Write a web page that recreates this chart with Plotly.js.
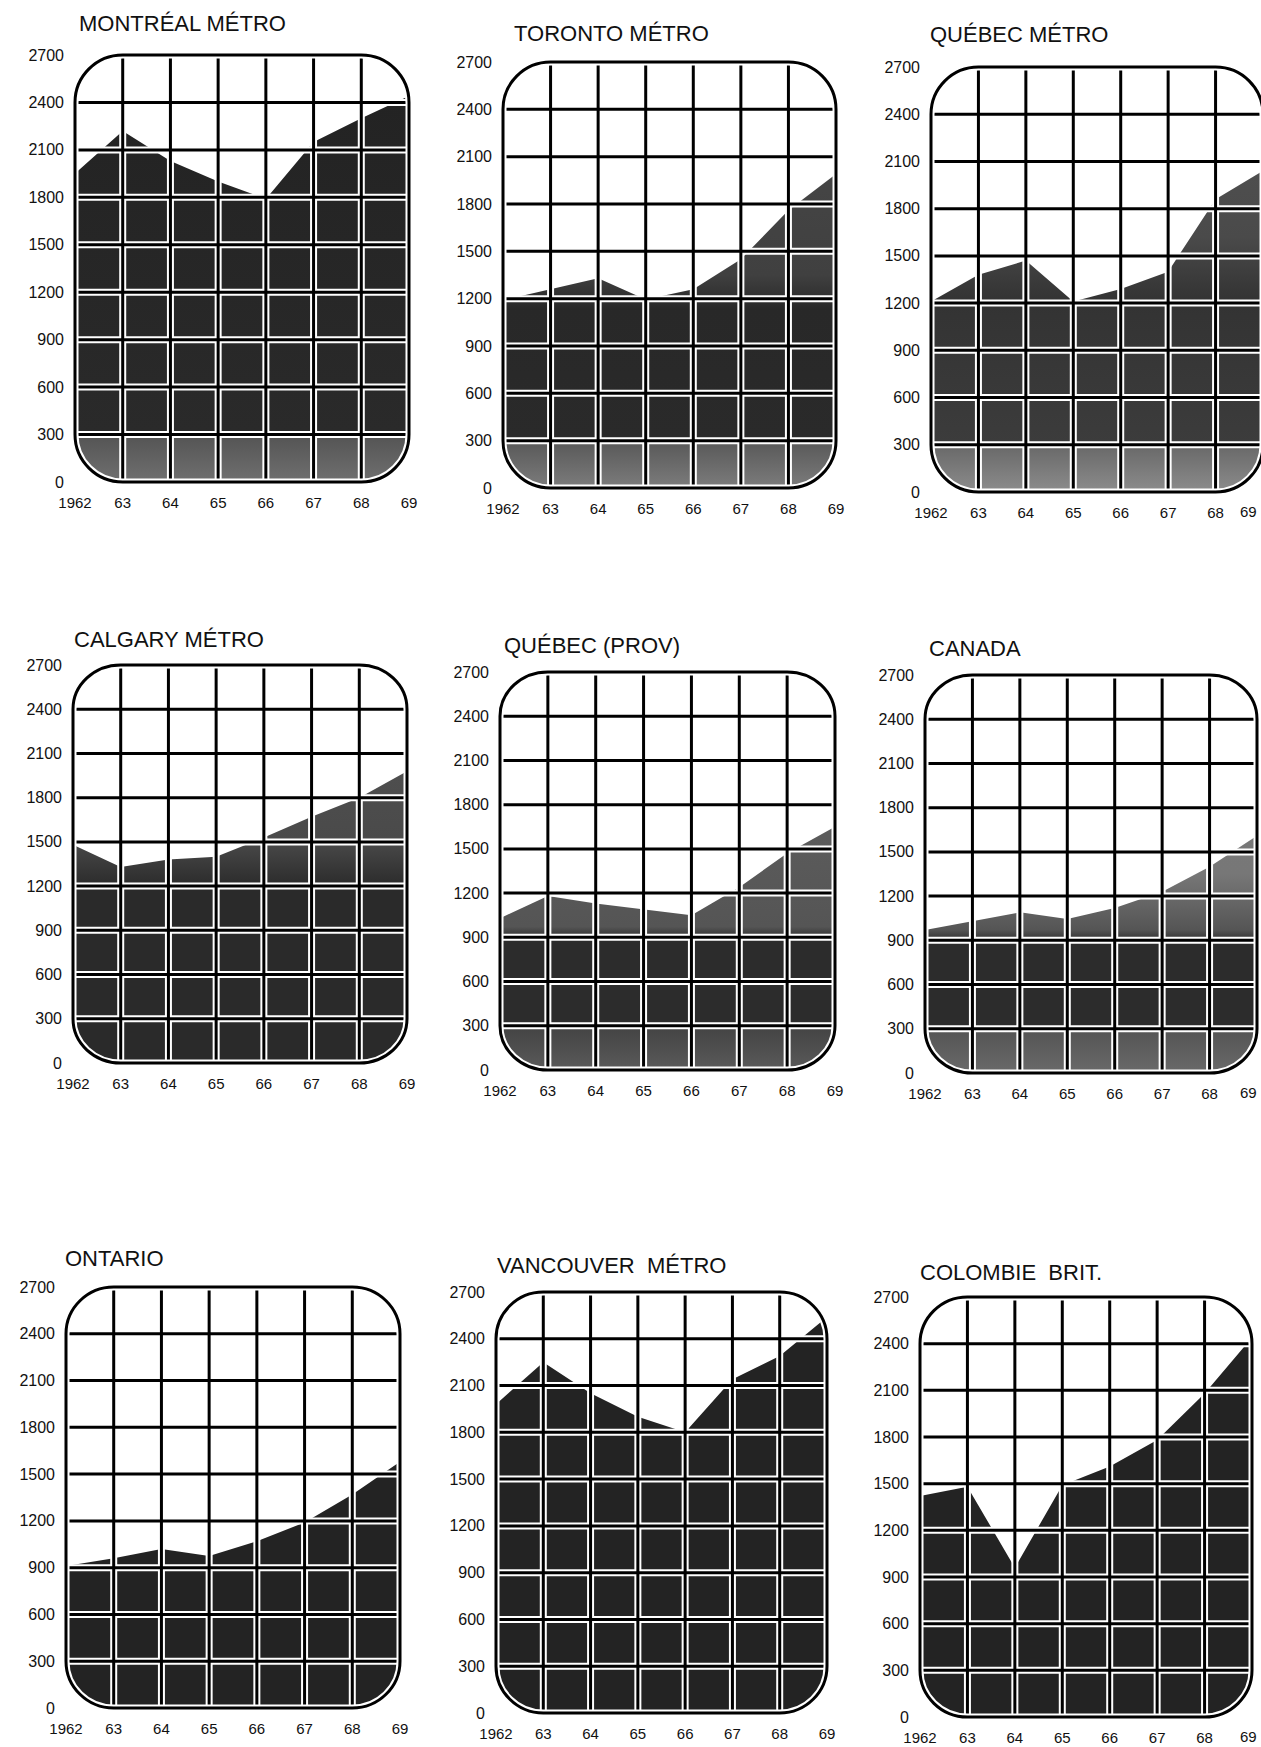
<!DOCTYPE html>
<html><head><meta charset="utf-8">
<script src="https://cdn.plot.ly/plotly-3.0.1.min.js"></script>
<style>html,body{margin:0;padding:0;background:#fff}</style>
</head><body><div id="chart" style="width:1261px;height:1747px"></div>
<script>
// ---- data ----
const years = [1962, 1963, 1964, 1965, 1966, 1967, 1968, 1969];
const yearLabels = ['1962', '63', '64', '65', '66', '67', '68', '69'];
const yTicks = [0, 300, 600, 900, 1200, 1500, 1800, 2100, 2400, 2700];
const titles = ['MONTRÉAL MÉTRO', 'TORONTO MÉTRO', 'QUÉBEC MÉTRO', 'CALGARY MÉTRO', 'QUÉBEC (PROV)', 'CANADA', 'ONTARIO', 'VANCOUVER  MÉTRO', 'COLOMBIE  BRIT.'];
const montreal     = [1950, 2220, 2030, 1900, 1790, 2150, 2300, 2440];
const toronto      = [1190, 1260, 1330, 1195, 1260, 1450, 1760, 1990];
const quebecMetro  = [1210, 1380, 1470, 1210, 1290, 1400, 1860, 2040];
const calgary      = [1480, 1330, 1380, 1400, 1530, 1670, 1800, 1980];
const quebecProv   = [1030, 1180, 1130, 1090, 1050, 1240, 1470, 1650];
const canada       = [970, 1030, 1090, 1045, 1120, 1230, 1400, 1610];
const ontario      = [910, 960, 1020, 975, 1070, 1190, 1370, 1580];
const vancouver    = [1980, 2250, 2050, 1900, 1800, 2140, 2290, 2540];
const colombieBrit = [1420, 1480, 960, 1490, 1610, 1780, 2080, 2440];
const series = [montreal, toronto, quebecMetro, calgary, quebecProv, canada, ontario, vancouver, colombieBrit];

// ---- layout geometry (pixels) ----
const boxes = [
  {L:75,  R:409,  T:55,   B:482,  tx:77,  ty:23},
  {L:503, R:836,  T:62,   B:488,  tx:512, ty:33},
  {L:931, R:1263, T:67,   B:492,  tx:928, ty:35},
  {L:73,  R:407,  T:665,  B:1063, tx:72,  ty:639},
  {L:500, R:835,  T:672,  B:1070, tx:502, ty:645},
  {L:925, R:1257, T:675,  B:1073, tx:927, ty:648},
  {L:66,  R:400,  T:1287, B:1708, tx:63,  ty:1258},
  {L:496, R:827,  T:1292, B:1713, tx:495, ty:1265},
  {L:920, R:1252, T:1297, B:1717, tx:918, ty:1272}
];
const D = '#232323';
const shades = [
  [[0,'#707070'],[0.105,'#555'],[0.115,'#2a2a2a'],[1,'#222']],
  [[0,'#7c7c7c'],[0.105,'#5a5a5a'],[0.115,'#2a2a2a'],[0.42,'#282828'],[0.5,'#404040'],[1,'#4a4a4a']],
  [[0,'#8c8c8c'],[0.105,'#6a6a6a'],[0.115,'#3c3c3c'],[0.45,'#333'],[0.6,'#4a4a4a'],[1,'#555']],
  [[0,'#2a2a2a'],[0.44,'#2a2a2a'],[0.56,'#4a4a4a'],[1,'#555']],
  [[0,'#5a5a5a'],[0.105,'#444'],[0.115,'#2c2c2c'],[0.33,'#2c2c2c'],[0.36,'#555'],[1,'#666']],
  [[0,'#6a6a6a'],[0.105,'#555'],[0.115,'#2c2c2c'],[0.33,'#2c2c2c'],[0.36,'#555'],[0.5,'#777'],[1,'#7a7a7a']],
  [[0,D],[1,D]],
  [[0,D],[1,D]],
  [[0,D],[1,D]]
];

const W = 1261, H = 1747;
const traces = [], shapes = [], annotations = [];
const layout = {
  width: W, height: H, margin: {l:0, r:0, t:0, b:0},
  paper_bgcolor: '#fff', plot_bgcolor: 'rgba(0,0,0,0)', showlegend: false,
  font: {family: 'Liberation Sans, Arial, sans-serif', color: '#111'}
};
const k = 0.5523;
boxes.forEach((p, i) => {
  const n = i === 0 ? '' : String(i + 1);
  const xa = 'x' + n, ya = 'y' + n;
  const pxX = (p.R - p.L) / 7, pxY = (p.B - p.T) / 2700;
  const pad = 6;
  const dl = p.L - pad, dr = Math.min(p.R + pad, W);
  const xr = [1962 - pad / pxX, 1962 + (dr - p.L) / pxX];
  const yr = [-pad / pxY, 2700 + pad / pxY];
  const edge = p.R + 10 > W;
  layout['xaxis' + n] = {
    domain: [dl / W, dr / W], range: xr, anchor: ya, tickmode: 'array',
    tickvals: edge ? years.slice(0, -1) : years, ticktext: edge ? yearLabels.slice(0, -1) : yearLabels,
    showgrid: false, zeroline: false, showline: false, ticks: '', tickfont: {size: 15, color: '#111'},
    ticklabelstandoff: 4, ticklabeloverflow: 'allow', fixedrange: true
  };
  layout['yaxis' + n] = {
    domain: [1 - (p.B + pad) / H, 1 - (p.T - pad) / H], range: yr, anchor: xa, tickmode: 'array', tickvals: yTicks,
    showgrid: false, zeroline: false, showline: false, ticks: '', tickfont: {size: 16, color: '#111'},
    ticklabelstandoff: 4, ticklabeloverflow: 'allow', fixedrange: true
  };
  traces.push({
    type: 'scatter', x: years, y: series[i], xaxis: xa, yaxis: ya, mode: 'lines',
    line: {width: 0, color: 'rgba(0,0,0,0)'}, fill: 'tozeroy', fillcolor: D,
    fillgradient: {type: 'vertical', start: 0, stop: 2700, colorscale: shades[i]},
    hoverinfo: 'skip'
  });
  const x0 = years[0], x1 = years[years.length - 1], y0 = yTicks[0], y1 = yTicks[yTicks.length - 1];
  const ref = {xref: xa, yref: ya, layer: 'above'};
  const lines = [];
  years.slice(1, -1).forEach(x => lines.push([x, y0, x, y1]));
  yTicks.slice(1, -1).forEach(y => lines.push([x0, y, x1, y]));
  lines.forEach(l => shapes.push(Object.assign({type: 'line', x0: l[0], y0: l[1], x1: l[2], y1: l[3], line: {color: '#fff', width: 7}}, ref)));
  lines.forEach(l => shapes.push(Object.assign({type: 'line', x0: l[0], y0: l[1], x1: l[2], y1: l[3], line: {color: '#000', width: 3}}, ref)));
  const rx = 1, ry = 300;
  const masks = [
    `M${x0},${y1-ry} L${x0},${y1} L${x0+rx},${y1} C${x0+rx-k*rx},${y1} ${x0},${y1-ry+k*ry} ${x0},${y1-ry} Z`,
    `M${x1-rx},${y1} L${x1},${y1} L${x1},${y1-ry} C${x1},${y1-ry+k*ry} ${x1-rx+k*rx},${y1} ${x1-rx},${y1} Z`,
    `M${x1},${y0+ry} L${x1},${y0} L${x1-rx},${y0} C${x1-rx+k*rx},${y0} ${x1},${y0+ry-k*ry} ${x1},${y0+ry} Z`,
    `M${x0+rx},${y0} L${x0},${y0} L${x0},${y0+ry} C${x0},${y0+ry-k*ry} ${x0+rx-k*rx},${y0} ${x0+rx},${y0} Z`
  ];
  masks.forEach(m => shapes.push(Object.assign({type: 'path', path: m, fillcolor: '#fff', line: {width: 0}}, ref)));
  const frame = `M${x0},${y0+ry} L${x0},${y1-ry} C${x0},${y1-ry+k*ry} ${x0+rx-k*rx},${y1} ${x0+rx},${y1} ` +
    `L${x1-rx},${y1} C${x1-rx+k*rx},${y1} ${x1},${y1-ry+k*ry} ${x1},${y1-ry} ` +
    `L${x1},${y0+ry} C${x1},${y0+ry-k*ry} ${x1-rx+k*rx},${y0} ${x1-rx},${y0} ` +
    `L${x0+rx},${y0} C${x0+rx-k*rx},${y0} ${x0},${y0+ry-k*ry} ${x0},${y0+ry} Z`;
  shapes.push(Object.assign({type: 'path', path: frame, line: {color: '#fff', width: 7}}, ref));
  shapes.push(Object.assign({type: 'path', path: frame, line: {color: '#000', width: 3}}, ref));
  annotations.push({xref: 'paper', yref: 'paper', x: p.tx / W, y: 1 - p.ty / H, xanchor: 'left', yanchor: 'middle',
    text: titles[i], showarrow: false, font: {size: 22, color: '#111'}});
  if (edge) {
    annotations.push({xref: 'paper', yref: 'paper', x: (W - 2) / W, y: 1 - (p.B + 19) / H, xanchor: 'right', yanchor: 'middle',
      text: yearLabels[yearLabels.length - 1], showarrow: false, font: {size: 15, color: '#111'}});
  }
});
layout.shapes = shapes;
layout.annotations = annotations;
Plotly.newPlot('chart', traces, layout, {staticPlot: true, displayModeBar: false});
</script></body></html>
